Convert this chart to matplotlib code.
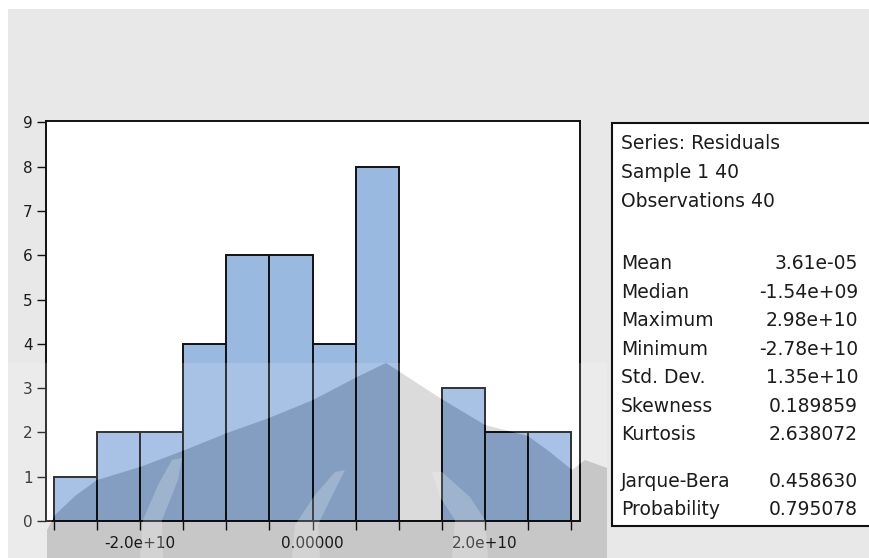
import matplotlib
matplotlib.use("Agg")
import matplotlib.pyplot as plt
from matplotlib.patches import Rectangle, Polygon
from matplotlib.transforms import Affine2D
from matplotlib.ticker import FixedLocator, FixedFormatter

# ---------------- data ----------------
bin_edges = [-3.0e10, -2.5e10, -2.0e10, -1.5e10, -1.0e10, -0.5e10, 0.0,
             0.5e10, 1.0e10, 1.5e10, 2.0e10, 2.5e10, 3.0e10]
counts = [1, 2, 2, 4, 6, 6, 4, 8, 0, 3, 2, 2]
y_ticks = [0, 1, 2, 3, 4, 5, 6, 7, 8, 9]
x_tick_labels = {-2.0e10: "-2.0e+10", 0.0: "0.00000", 2.0e10: "2.0e+10"}

header_lines = ["Series: Residuals", "Sample 1 40", "Observations 40"]
stat_names = ["Mean", "Median", "Maximum", "Minimum", "Std. Dev.", "Skewness", "Kurtosis"]
stat_values = ["3.61e-05", "-1.54e+09", "2.98e+10", "-2.78e+10", "1.35e+10", "0.189859", "2.638072"]
test_names = ["Jarque-Bera", "Probability"]
test_values = ["0.458630", "0.795078"]

# ---------------- style ----------------
W, H = 869, 558
BAR_COLOR = "#9ab9e1"
BG_GRAY = "#e8e8e8"
TXT = "#1c1c1c"
FONT = "DejaVu Sans"

fig = plt.figure(figsize=(W / 100, H / 100), dpi=100)
fig.patch.set_facecolor("white")
# transform for image-pixel coordinates (origin top-left)
px = Affine2D().scale(1 / W, -1 / H).translate(0, 1) + fig.transFigure

# gray window background
fig.patches.append(Rectangle((8, 9), W, H, transform=px, facecolor=BG_GRAY,
                             edgecolor="none", zorder=-2))

# ---------------- histogram ----------------
ax = fig.add_axes([46 / W, (H - 521) / H, 534 / W, 400 / H])
ax.set_facecolor("white")
widths = [bin_edges[i + 1] - bin_edges[i] for i in range(len(counts))]
ax.bar(bin_edges[:-1], counts, width=widths, align="edge", color=BAR_COLOR,
       edgecolor="#111111", linewidth=1.4, zorder=2)
ax.set_xlim(-3.09e10, 3.10e10)
ax.set_ylim(0, 9.03)

ax.xaxis.set_major_locator(FixedLocator(bin_edges))
ax.xaxis.set_major_formatter(FixedFormatter([x_tick_labels.get(e, "") for e in bin_edges]))
ax.yaxis.set_major_locator(FixedLocator(y_ticks))
ax.yaxis.set_major_formatter(FixedFormatter([str(v) for v in y_ticks]))
ax.tick_params(direction="out", length=6.5, width=1.0, color="#111111",
               labelcolor=TXT, labelsize=11)
ax.tick_params(axis="x", pad=4)
ax.tick_params(axis="y", pad=3)
for lab in ax.get_xticklabels() + ax.get_yticklabels():
    lab.set_fontfamily(FONT)
for sp in ax.spines.values():
    sp.set_linewidth(1.4)
    sp.set_color("#111111")
    sp.set_zorder(3)

# ---------------- statistics box ----------------
fig.patches.append(Rectangle((611.5, 122.5), 300, 403.5, transform=px,
                             facecolor="white", edgecolor="#111111",
                             linewidth=1.5, zorder=0.5))
LX, RX = 621, 858
STEP = 28.45
rows = []
for i, t in enumerate(header_lines):
    rows.append((t, "", 149.3 + i * 28.7))
for i, (n, v) in enumerate(zip(stat_names, stat_values)):
    rows.append((n, v, 269.3 + i * STEP))
for i, (n, v) in enumerate(zip(test_names, test_values)):
    rows.append((n, v, 487.0 + i * 27.7))
for name, val, yb in rows:
    fig.text(LX, yb, name, transform=px, ha="left", va="baseline",
             fontsize=13.5, family=FONT, color=TXT, zorder=3)
    if val:
        fig.text(RX, yb, val, transform=px, ha="right", va="baseline",
                 fontsize=13.5, family=FONT, color=TXT, zorder=3)

# ---------------- background watermark (approximation) ----------------
mountain = [(47, 558), (47, 530), (55, 515), (75, 496), (97, 480), (140, 467),
            (185, 450), (227, 433), (269, 418), (313, 400), (355, 378), (386, 363),
            (400, 372), (440, 398), (485, 425), (528, 436), (550, 452), (572, 470),
            (585, 460), (607, 468), (607, 558)]
apex = 11
band_left = [(0, 363)] + mountain[apex::-1] + [(0, 558)]
band_right = [(607, 363)] + mountain[19:apex - 1:-1]
for poly in (band_left, band_right):
    fig.patches.append(Polygon(poly, closed=True, transform=px, facecolor="white",
                               edgecolor="none", alpha=0.14, zorder=5))
fig.patches.append(Polygon(mountain, closed=True, transform=px, facecolor="black",
                           edgecolor="none", alpha=0.14, zorder=5))
stripes = [
    [(172, 460), (182, 458), (178, 480), (162, 520), (163, 558), (140, 558), (143, 520), (158, 485)],
    [(335, 472), (345, 470), (330, 500), (318, 525), (320, 558), (292, 558), (295, 525), (315, 495)],
    [(432, 472), (442, 472), (470, 497), (485, 520), (488, 558), (452, 558), (455, 520), (440, 497)],
]
for s in stripes:
    fig.patches.append(Polygon(s, closed=True, transform=px, facecolor="white",
                               edgecolor="none", alpha=0.22, zorder=6))

fig.savefig("out.png", dpi=100)
